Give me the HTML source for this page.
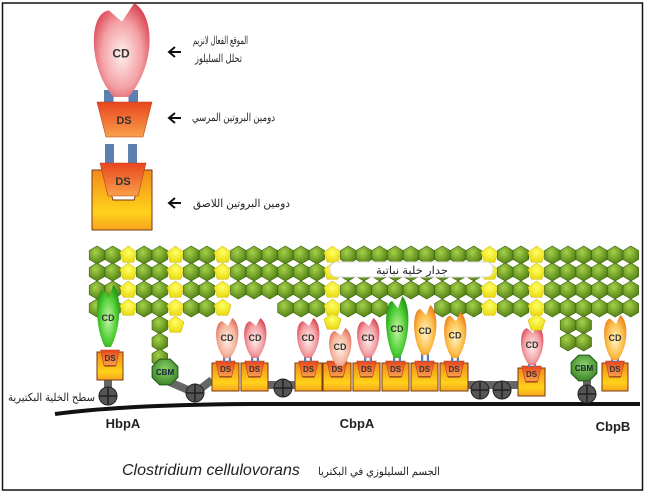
<!DOCTYPE html>
<html><head><meta charset="utf-8"><style>
html,body{margin:0;padding:0;background:#fff;width:646px;height:497px;overflow:hidden}
svg{display:block}
.ar{font-family:"Liberation Sans","Noto Sans CJK SC",sans-serif;font-size:11px;fill:#222}
.lb{font-family:"Liberation Sans",sans-serif;font-weight:bold;fill:#222}
</style></head><body>
<svg id="s" width="646" height="497" viewBox="0 0 646 497" xmlns="http://www.w3.org/2000/svg">
<defs>
<radialGradient id="gh" cx="40%" cy="35%" r="70%"><stop offset="0" stop-color="#a6d14a"/><stop offset="1" stop-color="#4f7d12"/></radialGradient>
<radialGradient id="gy" cx="50%" cy="40%" r="70%"><stop offset="0" stop-color="#ffff66"/><stop offset="1" stop-color="#e6d400"/></radialGradient>
<radialGradient id="gpink" cx="50%" cy="55%" r="60%"><stop offset="0" stop-color="#fff0ee"/><stop offset="0.6" stop-color="#f3a0a4"/><stop offset="1" stop-color="#d8404f"/></radialGradient>
<radialGradient id="gsal" cx="50%" cy="55%" r="60%"><stop offset="0" stop-color="#fff2e6"/><stop offset="0.6" stop-color="#f5b7a0"/><stop offset="1" stop-color="#e06a5a"/></radialGradient>
<radialGradient id="ggreen" cx="50%" cy="55%" r="60%"><stop offset="0" stop-color="#c8f5a8"/><stop offset="0.6" stop-color="#4fcf35"/><stop offset="1" stop-color="#1f8f14"/></radialGradient>
<radialGradient id="gorange" cx="50%" cy="55%" r="60%"><stop offset="0" stop-color="#fff6c8"/><stop offset="0.6" stop-color="#fbbf4a"/><stop offset="1" stop-color="#ee7a1a"/></radialGradient>
<linearGradient id="gds" x1="0" y1="0" x2="0" y2="1"><stop offset="0" stop-color="#e8451e"/><stop offset="1" stop-color="#f9a04a"/></linearGradient>
<linearGradient id="gbox" x1="0" y1="0" x2="0" y2="1"><stop offset="0" stop-color="#f28a1c"/><stop offset="0.7" stop-color="#ffd21a"/><stop offset="1" stop-color="#f7a41e"/></linearGradient>
<radialGradient id="gcbm" cx="50%" cy="40%" r="70%"><stop offset="0" stop-color="#8fd26a"/><stop offset="1" stop-color="#2f7a20"/></radialGradient>
</defs>
<rect x="2.5" y="3" width="640" height="487" fill="none" stroke="#111" stroke-width="1.5"/>
<g id="g"></g>
<text class="ar" x="193" y="44" textLength="55" lengthAdjust="spacingAndGlyphs">الموقع الفعال لانزيم</text>
<text class="ar" x="195" y="62" textLength="47" lengthAdjust="spacingAndGlyphs">تحلل السليلوز</text>
<text class="ar" x="192" y="121" textLength="83" lengthAdjust="spacingAndGlyphs">دومين البروتين المرسي</text>
<text class="ar" x="193" y="207" textLength="97" lengthAdjust="spacingAndGlyphs">دومين البروتين اللاصق</text>
<g stroke="#111" stroke-width="2" fill="none">
<path d="M181 52H169M175 47L169 52L175 57"/>
<path d="M181 118H169M175 113L169 118L175 123"/>
<path d="M181 203H169M175 198L169 203L175 208"/>
</g>
<rect x="330" y="262" width="163" height="15" rx="7" fill="#fff" stroke="#ddd"/>
<text class="ar" x="376" y="274" font-size="10" textLength="72" lengthAdjust="spacingAndGlyphs">جدار خلية نباتية</text>
<text class="ar" x="8" y="401" font-size="10" textLength="87" lengthAdjust="spacingAndGlyphs">سطح الخلية البكتيرية</text>
<text class="lb" x="123" y="428" text-anchor="middle" font-size="13">HbpA</text>
<text class="lb" x="357" y="428" text-anchor="middle" font-size="13">CbpA</text>
<text class="lb" x="613" y="431" text-anchor="middle" font-size="13">CbpB</text>
<text x="122" y="475" font-family="Liberation Sans,sans-serif" font-style="italic" font-size="16" fill="#222">Clostridium cellulovorans</text>
<text class="ar" x="318" y="475" font-size="11" textLength="122" lengthAdjust="spacingAndGlyphs">الجسم السليلوزي في البكتريا</text>
</svg>
<script>
var g=document.getElementById('g'),h='';
function hex(x,y){var r=9,p=[];for(var i=0;i<6;i++){var a=Math.PI/3*i+Math.PI/6;p.push((x+r*Math.cos(a)).toFixed(1)+','+(y+r*Math.sin(a)).toFixed(1));}h+='<polygon points="'+p.join(' ')+'" fill="url(#gh)" stroke="#3d6410" stroke-width="0.6"/>';}
function pent(x,y){var r=9,p=[];for(var i=0;i<5;i++){var a=-Math.PI/2+2*Math.PI/5*i;p.push((x+r*Math.cos(a)).toFixed(1)+','+(y+r*Math.sin(a)).toFixed(1));}h+='<polygon points="'+p.join(' ')+'" fill="url(#gy)" stroke="#c8b400" stroke-width="0.5"/>';}
var cx=function(i){return 97+15.7*i;},ry=[255,272,290,308,325,342,358];
var yc=[2,5,8,15,25,28];
function cell(i,r){if(yc.indexOf(i)>=0)pent(cx(i),ry[r]);else hex(cx(i),ry[r]);}
for(var r=0;r<3;r++)for(var i=0;i<35;i++)cell(i,r);
var row4=[0,1,2,3,4,5,6,7,8,12,13,14,15,16,17,18,22,23,24,25,26,27,28,29,30,31,32,33,34];
row4.forEach(function(i){cell(i,3);});
pent(cx(5),325);
hex(cx(4),325);hex(cx(4),342);hex(cx(4),358);
hex(cx(30),325);hex(cx(31),325);hex(cx(30),342);hex(cx(31),342);
h+='<path d="M55 414 Q120 405 250 404 L640 404" stroke="#111" stroke-width="4" fill="none"/>';
function node(x,y){h+='<circle cx="'+x+'" cy="'+y+'" r="9" fill="#555" stroke="#222"/><path d="M'+(x-9)+' '+y+'H'+(x+9)+'M'+x+' '+(y-9)+'V'+(y+9)+'" stroke="#222" stroke-width="1.5"/>';}
function bar(x1,y1,x2,y2){h+='<line x1="'+x1+'" y1="'+y1+'" x2="'+x2+'" y2="'+y2+'" stroke="#666" stroke-width="8"/>';}
bar(165,380,195,393);bar(195,393,212,380);bar(268,385,300,385);bar(468,385,520,385);
bar(108,378,108,400);bar(587,380,587,400);
[[108,396],[195,393],[283,388],[480,390],[502,390],[587,394]].forEach(function(n){node(n[0],n[1]);});
function ds(x,y,w,hh,fs){h+='<polygon points="'+(x-w/2)+','+y+' '+(x+w/2)+','+y+' '+(x+w*0.32)+','+(y+hh)+' '+(x-w*0.32)+','+(y+hh)+'" fill="url(#gds)" stroke="#b8401a" stroke-width="0.6"/><text x="'+x+'" y="'+(y+hh*0.7)+'" text-anchor="middle" font-family="Liberation Sans,sans-serif" font-weight="bold" font-size="'+fs+'" fill="#333">DS</text>';}
function box(x1,y,w,hh){var x2=x1+w,c=x1+w/2;h+='<path d="M'+x1+' '+y+'H'+(x1+w*0.18)+'L'+(x1+w*0.3)+' '+(y+hh*0.5)+'H'+(x2-w*0.3)+'L'+(x2-w*0.18)+' '+y+'H'+x2+'V'+(y+hh)+'H'+x1+'Z" fill="url(#gbox)" stroke="#7a3a10" stroke-width="1"/>';ds(c,y-2,w*0.72,hh*0.55,8);}
function cd(x,top,w,hh,fill,fs){var t=top;h+='<path d="M'+(x+1)+' '+(t+hh*0.2)+'L'+(x+w*0.22)+' '+t+'C'+(x+w*0.6)+' '+(t+hh*0.15)+' '+(x+w*0.55)+' '+(t+hh*0.7)+' '+(x+w*0.12)+' '+(t+hh)+'L'+(x-w*0.12)+' '+(t+hh)+'C'+(x-w*0.55)+' '+(t+hh*0.7)+' '+(x-w*0.55)+' '+(t+hh*0.1)+' '+(x-w*0.2)+' '+(t+hh*0.08)+'Z" fill="url(#'+fill+')"/><text x="'+x+'" y="'+(t+hh*0.58)+'" text-anchor="middle" font-family="Liberation Sans,sans-serif" font-weight="bold" font-size="'+fs+'" fill="#333">CD</text>';}
function stem(x,y1,y2,w){h+='<rect x="'+(x-w/2)+'" y="'+y1+'" width="'+(w*0.28)+'" height="'+(y2-y1)+'" fill="#5b7fb0"/><rect x="'+(x+w/2-w*0.28)+'" y="'+y1+'" width="'+(w*0.28)+'" height="'+(y2-y1)+'" fill="#5b7fb0"/>';}
function prot(bx,by,bw,cdx,cdtop,cdh,fill){box(bx,by,bw,28);stem(cdx,cdtop+cdh-2,by-1,8);cd(cdx,cdtop,24,cdh,fill,9);}
box(97,352,26,28);cd(108,285,24,62,'ggreen',9);
prot(212,363,27,227,318,40,'gsal');
prot(241,363,27,255,318,40,'gpink');
prot(295,363,27,308,318,40,'gpink');
prot(323,363,28,340,328,38,'gsal');
prot(353,363,27,368,318,40,'gpink');
prot(382,363,27,397,296,62,'ggreen');
prot(411,363,27,425,305,50,'gorange');
prot(440,363,28,455,312,46,'gorange');
prot(518,368,27,532,325,40,'gpink');
prot(602,363,26,615,315,45,'gorange');
pent(cx(15),322);pent(cx(28),323);
function cbm(x,y){var r=14,p=[];for(var i=0;i<8;i++){var a=Math.PI/4*i+Math.PI/8;p.push((x+r*Math.cos(a)).toFixed(1)+','+(y+r*Math.sin(a)).toFixed(1));}h+='<polygon points="'+p.join(' ')+'" fill="url(#gcbm)" stroke="#1f5a14"/><text x="'+x+'" y="'+(y+3)+'" text-anchor="middle" font-family="Liberation Sans,sans-serif" font-weight="bold" font-size="8" fill="#123">CBM</text>';}
cbm(165,372);cbm(584,368);
stem(121,90,104,34);
h+='<polygon points="97,102 152,102 143,137 106,137" fill="url(#gds)" stroke="#b8401a" stroke-width="0.6"/><text x="124" y="124" text-anchor="middle" font-family="Liberation Sans,sans-serif" font-weight="bold" font-size="11" fill="#333">DS</text>';
stem(121,144,165,32);
h+='<path d="M92 170H104L113 200H134L143 170H152V230H92Z" fill="url(#gbox)" stroke="#7a3a10"/>';
h+='<polygon points="100,163 146,163 138,196 108,196" fill="url(#gds)" stroke="#b8401a" stroke-width="0.6"/><text x="123" y="185" text-anchor="middle" font-family="Liberation Sans,sans-serif" font-weight="bold" font-size="11" fill="#333">DS</text>';
cd(121,3,60,94,'gpink',12);
g.innerHTML=h;
</script>
</body></html>
